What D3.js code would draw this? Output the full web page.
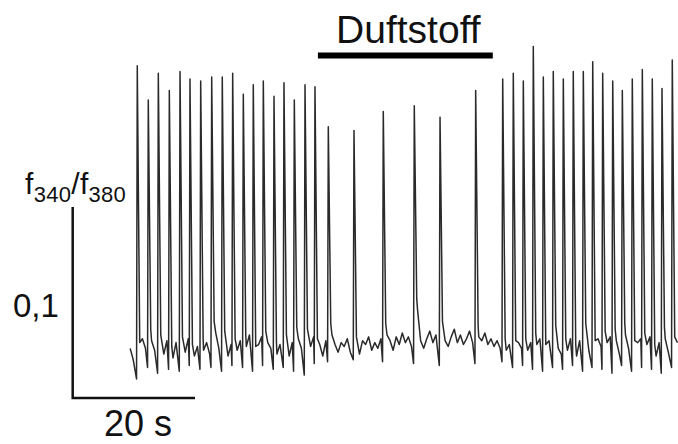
<!DOCTYPE html>
<html>
<head>
<meta charset="utf-8">
<script src="https://cdn.jsdelivr.net/npm/d3@7"></script>
<style>
  body { margin: 0; background: #fff; }
  text { font-family: "Liberation Sans", Arial, sans-serif; fill: #111; }
</style>
</head>
<body>
<div id="chart"></div>
<script>
// spike times (s), peak and pre-spike dip values (f340/f380)
var spikeTimes = [10.56, 12.36, 14.00, 15.80, 17.55, 19.18, 20.93, 22.73, 24.46, 26.16,
  27.90, 29.53, 31.17, 32.92, 34.55, 36.24, 37.99, 39.62, 41.80, 46.00,
  50.79, 55.86, 60.07, 65.90, 70.32, 72.05, 73.69, 75.32, 76.96, 78.59,
  80.23, 81.86, 83.50, 85.04, 86.67, 88.31, 89.88, 91.51, 93.15, 94.78,
  96.37, 98.05];
var spikePeaks = [0.974, 0.956, 0.970, 0.961, 0.971, 0.967, 0.966, 0.968, 0.968, 0.970,
  0.959, 0.964, 0.966, 0.958, 0.965, 0.956, 0.964, 0.963, 0.942, 0.940,
  0.950, 0.953, 0.947, 0.961, 0.967, 0.970, 0.966, 0.984, 0.968, 0.971,
  0.967, 0.971, 0.971, 0.976, 0.970, 0.966, 0.961, 0.967, 0.972, 0.967,
  0.962, 0.977];
var spikeDips = [0.810, 0.816, 0.813, 0.815, 0.814, 0.817, 0.815, 0.816, 0.814, 0.817,
  0.816, 0.814, 0.817, 0.815, 0.816, 0.814, 0.812, 0.818, 0.819, 0.820,
  0.819, 0.818, 0.817, 0.818, 0.819, 0.816, 0.817, 0.815, 0.814, 0.816,
  0.815, 0.817, 0.814, 0.816, 0.815, 0.813, 0.817, 0.814, 0.816, 0.815,
  0.813, 0.816];

// baseline samples between spikes, every 0.5 s from 9.4 s
var baselineStart = 9.4, baselineStep = 0.5;
var baselineValues = [
  0.826, 0.820, 0.829, 0.823, 0.831, 0.826, 0.822, 0.830, 0.825, 0.832,
  0.827, 0.823, 0.830, 0.825, 0.821, 0.829, 0.833, 0.826, 0.824, 0.831,
  0.828, 0.822, 0.827, 0.832, 0.825, 0.829, 0.823, 0.830, 0.834, 0.826,
  0.824, 0.829, 0.822, 0.828, 0.831, 0.825, 0.830, 0.823, 0.827, 0.833,
  0.826, 0.821, 0.828, 0.832, 0.824, 0.829, 0.826, 0.831, 0.823, 0.828,
  0.834, 0.827, 0.822, 0.829, 0.825, 0.831, 0.826, 0.823, 0.830, 0.827,
  0.832, 0.825, 0.828, 0.822, 0.830, 0.826, 0.833, 0.828, 0.824, 0.829,
  0.827, 0.831, 0.824, 0.829, 0.826, 0.823, 0.830, 0.828, 0.832, 0.825,
  0.829, 0.826, 0.831, 0.827, 0.833, 0.830, 0.825, 0.832, 0.828, 0.834,
  0.829, 0.832, 0.827, 0.833, 0.846, 0.830, 0.826, 0.831, 0.835, 0.829,
  0.833, 0.828, 0.834, 0.830, 0.827, 0.832, 0.836, 0.829, 0.833, 0.828,
  0.831, 0.835, 0.829, 0.826, 0.832, 0.830, 0.834, 0.828, 0.831, 0.827,
  0.830, 0.826, 0.829, 0.825, 0.828, 0.831, 0.824, 0.829, 0.826, 0.830,
  0.825, 0.829, 0.823, 0.828, 0.831, 0.826, 0.822, 0.830, 0.827, 0.832,
  0.826, 0.823, 0.829, 0.825, 0.831, 0.827, 0.822, 0.830, 0.828, 0.833,
  0.825, 0.829, 0.824, 0.831, 0.827, 0.822, 0.829, 0.832, 0.826, 0.830,
  0.823, 0.828, 0.833, 0.826, 0.830, 0.824, 0.829, 0.831, 0.825, 0.828,
  0.832, 0.826, 0.822, 0.829, 0.827, 0.831, 0.824, 0.830, 0.826, 0.829];

var stimulus = [40.1, 68.7];
var stimulusLabel = "Duftstoff";
var scaleBarTime = [0, 20];
var scaleBarRatio = [0.80, 0.90];
var scaleBarTimeLabel = "20 s";
var scaleBarRatioLabel = "0,1";

var width = 678, height = 444;

// set the ranges (20 s = 122 px, 0,1 = 191 px)
var x = d3.scaleLinear().domain([0, 100]).range([72.7, 684.2]);
var y = d3.scaleLinear().domain([0.80, 0.90]).range([398, 207]);

var svg = d3.select("#chart").append("svg")
  .attr("width", width)
  .attr("height", height);

// merge baseline samples and spikes into one trace
var points = [];
baselineValues.forEach(function(v, i) {
  var t = baselineStart + i * baselineStep;
  var near = spikeTimes.some(function(s) { return t > s - 0.2 && t < s + 0.45; });
  if (!near) points.push([t, v]);
});
spikeTimes.forEach(function(s, i) {
  var k = Math.min(Math.round((s + 0.5 - baselineStart) / baselineStep), baselineValues.length - 1);
  points.push([s - 0.12, spikeDips[i]]);
  points.push([s, spikePeaks[i]]);
  points.push([s + 0.4, baselineValues[k] + 0.006]);
});
points.sort(function(a, b) { return a[0] - b[0]; });

var line = d3.line()
  .x(function(d) { return x(d[0]); })
  .y(function(d) { return y(d[1]); });

svg.append("path")
  .datum(points)
  .attr("d", line)
  .attr("fill", "none")
  .attr("stroke", "#2a2a2a")
  .attr("stroke-width", 1.5)
  .attr("stroke-linejoin", "round");

// stimulus bar + label
svg.append("line")
  .attr("x1", x(stimulus[0])).attr("x2", x(stimulus[1]))
  .attr("y1", 55.5).attr("y2", 55.5)
  .attr("stroke", "#000")
  .attr("stroke-width", 6);

svg.append("text")
  .attr("x", (x(stimulus[0]) + x(stimulus[1])) / 2 + 3)
  .attr("y", 43)
  .attr("text-anchor", "middle")
  .attr("font-size", 39)
  .text(stimulusLabel);

// scale bar
svg.append("path")
  .attr("d", "M" + x(scaleBarTime[0]) + "," + y(scaleBarRatio[1]) +
             "V" + y(scaleBarRatio[0]) + "H" + x(scaleBarTime[1]))
  .attr("fill", "none")
  .attr("stroke", "#111")
  .attr("stroke-width", 2.5);

svg.append("text")
  .attr("x", 104)
  .attr("y", 436)
  .attr("font-size", 36)
  .text(scaleBarTimeLabel);

svg.append("text")
  .attr("x", 13)
  .attr("y", 317)
  .attr("font-size", 33)
  .text(scaleBarRatioLabel);

// axis title f340/f380
var title = svg.append("text")
  .attr("x", 25)
  .attr("y", 193.5)
  .attr("font-size", 30)
  .attr("letter-spacing", 0.3);
title.append("tspan").text("f");
title.append("tspan").attr("font-size", 22).attr("dy", 8).text("340");
title.append("tspan").attr("dy", -8).text("/f");
title.append("tspan").attr("font-size", 22).attr("dy", 8).text("380");
</script>
</body>
</html>
